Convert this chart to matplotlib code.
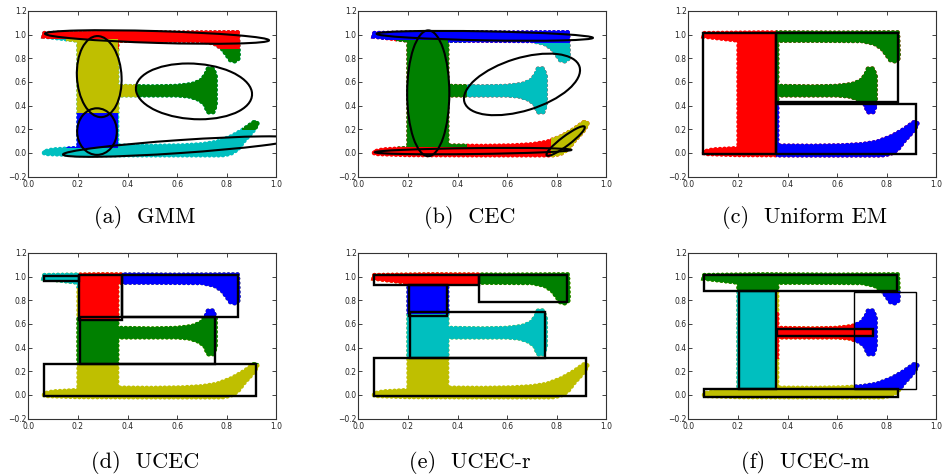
import numpy as np
import matplotlib
matplotlib.use("Agg")
import matplotlib.pyplot as plt
from matplotlib.patches import Polygon, Rectangle, Circle
from matplotlib.transforms import Affine2D

# ---------------- data ----------------
# outline of the "E"-shaped point cloud (data coordinates)
E_X = [0.065, 0.30, 0.60, 0.845, 0.848, 0.835, 0.815, 0.80, 0.78, 0.75, 0.70, 0.50, 0.358,
       0.358, 0.50, 0.60, 0.66, 0.695, 0.715, 0.725, 0.745, 0.755, 0.755, 0.745, 0.725,
       0.712, 0.690, 0.650, 0.600, 0.358,
       0.358, 0.50, 0.62, 0.70, 0.76, 0.82, 0.87, 0.90, 0.915, 0.925, 0.905, 0.87, 0.845,
       0.815, 0.78, 0.50, 0.20, 0.065, 0.062, 0.10, 0.203, 0.203, 0.10, 0.062]
E_Y = [1.012, 1.018, 1.015, 1.018, 0.800, 0.775, 0.785, 0.83, 0.885, 0.925, 0.947, 0.950, 0.950,
       0.565, 0.560, 0.565, 0.580, 0.610, 0.660, 0.712, 0.712, 0.650, 0.400, 0.345, 0.345,
       0.410, 0.450, 0.478, 0.488, 0.488,
       0.060, 0.058, 0.062, 0.072, 0.092, 0.140, 0.200, 0.245, 0.265, 0.245, 0.180, 0.100, 0.030,
       -0.008, -0.020, -0.020, -0.018, -0.008, 0.010, 0.028, 0.040, 0.950, 0.975, 0.985]

FULL = (-1.0, 2.0, -1.0, 2.0)

# cluster assignment regions per panel: (color, (x0, x1, y0, y1)), drawn in order
REGIONS_GMM = [('c', FULL), ('b', (0.15, 0.36, 0.045, 0.335)), ('y', (0.15, 0.44, 0.335, 0.96)),
               ('g', (0.44, 1.0, 0.30, 0.875)), ('g', (0.86, 1.0, 0.195, 0.30)),
               ('r', (0.0, 1.0, 0.96, 1.1)), ('r', (0.36, 1.0, 0.875, 1.1))]
REGIONS_CEC = [('r', FULL), ('y', (0.775, 1.0, -0.1, 0.30)), ('g', (0.15, 0.44, 0.05, 0.955)),
               ('c', (0.44, 1.0, 0.30, 0.93)), ('b', (0.0, 1.0, 0.955, 1.1)),
               ('b', (0.36, 1.0, 0.93, 1.1))]
REGIONS_UEM = [('r', FULL), ('g', (0.355, 1.0, 0.42, 1.1)), ('b', (0.355, 1.0, -0.1, 0.42))]
REGIONS_UCEC = [('y', FULL), ('g', (0.15, 1.0, 0.262, 0.655)), ('r', (0.205, 0.379, 0.64, 1.1)),
                ('b', (0.379, 1.0, 0.655, 1.1)), ('c', (0.0, 0.205, 0.9, 1.1))]
REGIONS_UCECR = [('y', FULL), ('c', (0.15, 1.0, 0.315, 0.68)), ('c', (0.36, 1.0, 0.68, 0.75)),
                 ('b', (0.15, 0.49, 0.68, 0.93)), ('r', (0.0, 0.49, 0.93, 1.1)),
                 ('g', (0.49, 1.0, 0.75, 1.1))]
REGIONS_UCECM = [('y', FULL), ('c', (0.15, 0.357, 0.05, 0.876)), ('r', (0.357, 0.669, 0.30, 0.70)),
                 ('b', (0.669, 1.0, 0.05, 0.876)), ('r', (0.669, 0.745, 0.499, 0.556)),
                 ('g', (0.0, 1.0, 0.876, 1.1))]

# fitted ellipses: center, semi-axis vector a, semi-axis vector b
ELL_GMM = [((0.519, 0.98), (0.4515, -0.028), (0.0, 0.05)),
           ((0.286, 0.645), (-0.007, 0.343), (0.09, 0.0)),
           ((0.668, 0.52), (0.233, 0.0), (-0.024, 0.236)),
           ((0.277, 0.18), (0.0, 0.197), (0.08, 0.0)),
           ((0.61, 0.053), (0.47, 0.067), (0.0, 0.055))]
ELL_CEC = [((0.51, 0.99), (0.436, -0.017), (0.0, 0.038)),
           ((0.282, 0.504), (0.0, 0.532), (0.085, 0.0)),
           ((0.66, 0.579), (0.232, 0.150), (-0.031, 0.213)),
           ((0.836, 0.10), (0.0765, 0.121), (-0.0113, 0.0316)),
           ((0.463, 0.015), (0.396, 0.01), (0.0, 0.025))]

# fitted rectangles (x0, x1, y0, y1)
RECT_UEM = [(0.061, 0.353, -0.008, 1.017), (0.353, 0.844, 0.429, 1.017),
            (0.353, 0.919, -0.008, 0.415)]
RECT_UCEC = [(0.064, 0.204, 0.966, 1.006), (0.204, 0.379, 0.631, 1.014),
             (0.379, 0.844, 0.662, 1.014), (0.209, 0.752, 0.262, 0.662),
             (0.064, 0.919, -0.011, 0.262)]
RECT_UCECR = [(0.064, 0.487, 0.927, 1.014), (0.487, 0.843, 0.789, 1.014),
              (0.204, 0.356, 0.668, 0.927), (0.208, 0.752, 0.315, 0.701),
              (0.064, 0.919, -0.011, 0.315)]
RECT_UCECM = [(0.063, 0.841, 0.876, 1.014), (0.205, 0.353, 0.053, 0.876),
              (0.357, 0.744, 0.499, 0.555), (0.669, 0.918, 0.053, 0.868),
              (0.063, 0.844, -0.017, 0.050)]
THIN_RECT_UCECM = [3]

X_TICKS = [0.0, 0.2, 0.4, 0.6, 0.8, 1.0]
X_TICKLABELS = ['0.0', '0.2', '0.4', '0.6', '0.8', '1.0']
Y_TICKS = [-0.2, 0.0, 0.2, 0.4, 0.6, 0.8, 1.0, 1.2]
Y_TICKLABELS = ['\u22120.2', '0.0', '0.2', '0.4', '0.6', '0.8', '1.0', '1.2']

CAPTIONS = ['(a)  GMM', '(b)  CEC', '(c)  Uniform EM', '(d)  UCEC', '(e)  UCEC-r', '(f)  UCEC-m']

# ---------------- drawing ----------------
W, H = 946, 475
fig = plt.figure(figsize=(W / 100, H / 100), dpi=100)

col_left = [28.3, 358.3, 688.3]
ax_w = 248.0
row_top = [11.0, 253.0]
ax_h = 165.5
cap_x = [145, 470, 805]
cap_y = [218, 462]


def draw_cloud(ax, regions):
    pts = np.column_stack([E_X, E_Y])
    for color, (x0, x1, y0, y1) in regions:
        clip = Rectangle((x0, y0), x1 - x0, y1 - y0, transform=ax.transData)
        poly = Polygon(pts, closed=True, facecolor=color, edgecolor=color,
                       linewidth=1.6, joinstyle='round', zorder=2)
        ax.add_patch(poly)
        poly.set_clip_path(clip)
        beads = Polygon(pts, closed=True, fill=False, edgecolor=color,
                        linewidth=3.4, linestyle=(0, (0.05, 0.9)), zorder=2)
        beads.set_capstyle('round')
        ax.add_patch(beads)
        beads.set_clip_path(clip)


def draw_ellipses(ax, ells):
    for (cx, cy), (axx, ayy), (bxx, byy) in ells:
        tr = Affine2D.from_values(axx, ayy, bxx, byy, cx, cy) + ax.transData
        ax.add_patch(Circle((0, 0), 1.0, transform=tr, fill=False,
                            edgecolor='black', linewidth=1.5, zorder=4))


def draw_rects(ax, rects, thin=()):
    for i, (x0, x1, y0, y1) in enumerate(rects):
        ax.add_patch(Rectangle((x0, y0), x1 - x0, y1 - y0, fill=False,
                               edgecolor='black', linewidth=1.0 if i in thin else 1.7,
                               zorder=4))


panels = [
    (REGIONS_GMM, ELL_GMM, None, ()),
    (REGIONS_CEC, ELL_CEC, None, ()),
    (REGIONS_UEM, None, RECT_UEM, ()),
    (REGIONS_UCEC, None, RECT_UCEC, ()),
    (REGIONS_UCECR, None, RECT_UCECR, ()),
    (REGIONS_UCECM, None, RECT_UCECM, THIN_RECT_UCECM),
]

for i, (regions, ells, rects, thin) in enumerate(panels):
    r, c = divmod(i, 3)
    left = col_left[c] / W
    bottom = 1 - (row_top[r] + ax_h) / H
    ax = fig.add_axes([left, bottom, ax_w / W, ax_h / H])
    ax.set_xlim(0.0, 1.0)
    ax.set_ylim(-0.2, 1.2)
    draw_cloud(ax, regions)
    if ells:
        draw_ellipses(ax, ells)
    if rects:
        draw_rects(ax, rects, thin)
    ax.set_xticks(X_TICKS)
    ax.set_xticklabels(X_TICKLABELS)
    ax.set_yticks(Y_TICKS)
    ax.set_yticklabels(Y_TICKLABELS)
    ax.tick_params(direction='in', length=3, width=0.6, top=True, right=True,
                   labelsize=5.5, colors='#222222')
    ax.tick_params(axis='x', pad=2.2)
    ax.tick_params(axis='y', pad=1.2)
    for sp in ax.spines.values():
        sp.set_linewidth(0.8)
        sp.set_color('#333333')
    fig.text(cap_x[c] / W, 1 - cap_y[r] / H, CAPTIONS[i], family='cmr10',
             fontsize=16, ha='center', va='center')

fig.savefig('out.png', dpi=100)
